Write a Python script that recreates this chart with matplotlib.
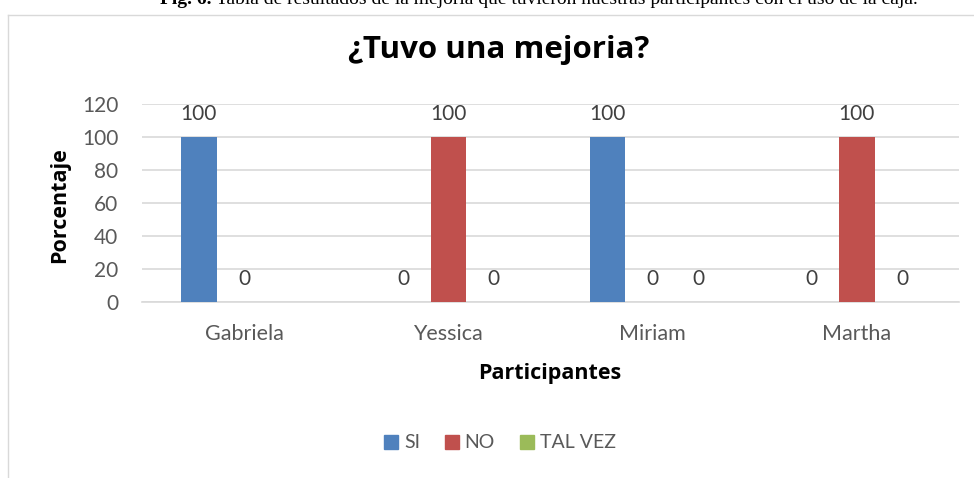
import matplotlib
matplotlib.use("Agg")
import matplotlib.pyplot as plt
import numpy as np
from matplotlib.lines import Line2D

participants = ["Gabriela", "Yessica", "Miriam", "Martha"]
series_names = ["SI", "NO", "TAL VEZ"]
si_values = [100, 0, 100, 0]
no_values = [0, 100, 0, 100]
talvez_values = [None, 0, 0, 0]
y_ticks = [0, 20, 40, 60, 80, 100, 120]
colors = ["#4F81BD", "#C0504D", "#9BBB59"]

W, H = 974, 478
fig = plt.figure(figsize=(W / 100, H / 100), dpi=100)
fig.patch.set_facecolor("white")

font = "Lato"
gray = "#595959"

left, right, bottom0, top120 = 142, 959, 302, 104
ax = fig.add_axes([left / W, 1 - bottom0 / H, (right - left) / W, (bottom0 - top120) / H])

x = np.arange(len(participants))
bw = 0.174
off = 0.222
all_series = [si_values, no_values, talvez_values]
for i, (vals, c, name) in enumerate(zip(all_series, colors, series_names)):
    xs = x + (i - 1) * off
    hv = [v if v is not None else 0 for v in vals]
    ax.bar(xs, hv, width=bw, color=c, label=name, zorder=3)
    for xx, v in zip(xs, vals):
        if v is None:
            continue
        ax.annotate(str(v), (xx, v), xytext=(0, 16.5), textcoords="offset points",
                    ha="center", va="center", fontsize=15, color="#404040", family=font)

ax.set_xlim(-0.5, len(participants) - 0.5)
ax.set_ylim(0, 120)
ax.set_yticks(y_ticks)
ax.set_yticklabels([str(t) for t in y_ticks], fontsize=15, color=gray, family=font)
ax.set_xticks(x)
ax.set_xticklabels(participants, fontsize=15.5, color=gray, family=font)
ax.tick_params(axis="y", length=0, pad=17)
ax.tick_params(axis="x", length=0, pad=16)
ax.yaxis.grid(True, color="#d9d9d9", linewidth=1.2, zorder=0)
ax.set_axisbelow(True)
for s in ["top", "right", "left"]:
    ax.spines[s].set_visible(False)
ax.spines["bottom"].set_color("#d9d9d9")
ax.spines["bottom"].set_linewidth(1.2)

fig.text(499 / W, 1 - 50 / H, "¿Tuvo una mejoria?", ha="center", va="center",
         fontsize=22.5, fontweight="bold", family="Open Sans", color="black")
fig.text(60 / W, 1 - 205 / H, "Porcentaje", ha="center", va="center", rotation=90,
         fontsize=15.5, fontweight="bold", family="Open Sans", color="black")
fig.text(550 / W, 1 - 373 / H, "Participantes", ha="center", va="center",
         fontsize=15.5, fontweight="bold", family="Open Sans", color="black")

handles = [plt.Rectangle((0, 0), 1, 1, color=c) for c in colors]
fig.legend(handles, series_names, loc="center", bbox_to_anchor=(500 / W, 1 - 443 / H),
           ncol=3, frameon=False, prop={"family": font, "size": 14},
           handlelength=0.7, handleheight=0.7, handletextpad=0.3, columnspacing=1.3,
           labelcolor=gray)

cap_y = 1 - 0 / H
t1 = fig.text(160 / W, cap_y, "Fig. 6. ", ha="left", va="center",
              fontsize=14, fontweight="bold", family="Liberation Serif", color="black")
fig.canvas.draw()
bb = t1.get_window_extent()
fig.text(bb.x1 / W, cap_y, "Tabla de resultados de la mejoria que tuvieron nuestras participantes con el uso de la caja.",
         ha="left", va="center", fontsize=14, family="Liberation Serif", color="black")

fig.add_artist(Line2D([8 / W, 8 / W], [0, 1 - 15 / H], transform=fig.transFigure, color="#d9d9d9", linewidth=1))
fig.add_artist(Line2D([8 / W, 1], [1 - 15 / H, 1 - 15 / H], transform=fig.transFigure, color="#d9d9d9", linewidth=1))

fig.savefig("out.png", dpi=100)
